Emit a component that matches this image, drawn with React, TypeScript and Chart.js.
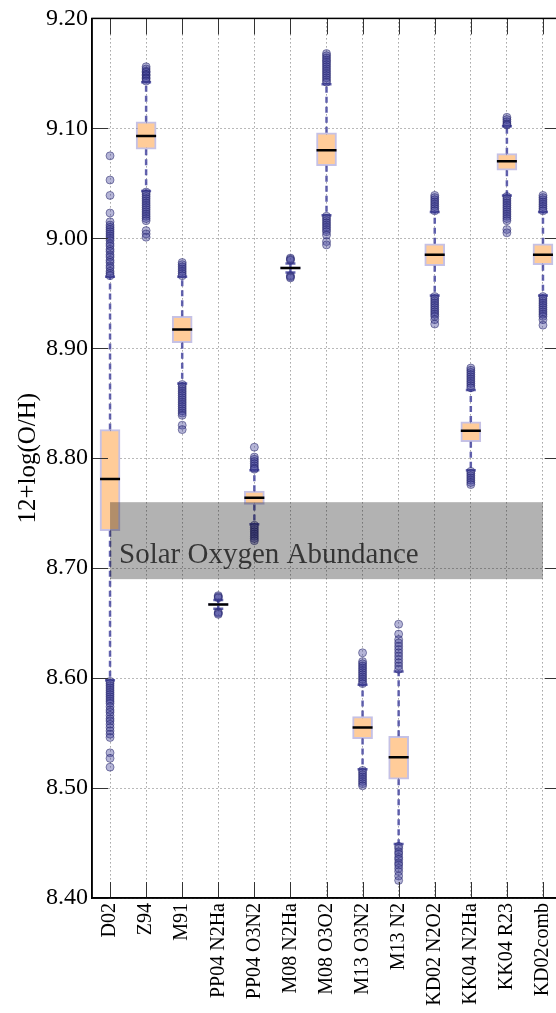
import React, { useEffect, useRef } from 'react';
import { Chart, registerables } from 'chart.js';

Chart.register(...registerables);

// ---------- data ----------
const methods = [
  'D02', 'Z94', 'M91', 'PP04 N2Ha', 'PP04 O3N2', 'M08 N2Ha', 'M08 O3O2',
  'M13 O3N2', 'M13 N2', 'KD02 N2O2', 'KK04 N2Ha', 'KK04 R23', 'KD02comb',
];
const q1 = [8.734, 9.081, 8.905, 8.666, 8.758, 8.972, 9.066, 8.545, 8.508, 8.975, 8.815, 9.062, 8.976];
const medians = [8.781, 9.093, 8.917, 8.667, 8.764, 8.973, 9.080, 8.555, 8.528, 8.985, 8.825, 9.070, 8.985];
const q3 = [8.826, 9.106, 8.929, 8.668, 8.770, 8.974, 9.096, 8.565, 8.547, 8.995, 8.833, 9.077, 8.995];
const whiskerLow = [8.598, 9.043, 8.868, 8.663, 8.740, 8.969, 9.021, 8.517, 8.449, 8.948, 8.789, 9.039, 8.948];
const whiskerHigh = [8.965, 9.142, 8.965, 8.671, 8.789, 8.977, 9.140, 8.594, 8.606, 9.024, 8.862, 9.102, 9.024];

const fliersD02 = [
  9.075, 9.053, 9.039, 9.023, 9.015, 9.012, 9.010, 9.008, 9.006, 9.004, 9.002, 9.000, 8.998,
  8.995, 8.993, 8.990, 8.988, 8.985, 8.983, 8.980, 8.978, 8.975, 8.973, 8.970, 8.968, 8.966,
  8.597, 8.595, 8.593, 8.591, 8.589, 8.587, 8.585, 8.583, 8.581, 8.579, 8.577, 8.574, 8.571,
  8.569, 8.566, 8.563, 8.561, 8.558, 8.555, 8.552, 8.549, 8.546, 8.532, 8.527, 8.519,
];
const fliersZ94 = [
  9.156, 9.154, 9.152, 9.151, 9.149, 9.148, 9.146, 9.145, 9.143,
  9.042, 9.040, 9.038, 9.036, 9.034, 9.032, 9.030, 9.028, 9.026, 9.024, 9.022, 9.020, 9.018,
  9.016, 9.007, 9.004, 9.001,
];
const fliersM91 = [
  8.978, 8.976, 8.974, 8.972, 8.970, 8.968, 8.966,
  8.867, 8.865, 8.863, 8.861, 8.859, 8.857, 8.855, 8.853, 8.851, 8.849, 8.847, 8.845, 8.843,
  8.841, 8.839, 8.830, 8.826,
];
const fliersPP04N2Ha = [8.675, 8.674, 8.673, 8.660, 8.659, 8.658];
const fliersPP04O3N2 = [
  8.810, 8.801, 8.799, 8.797, 8.795, 8.793, 8.791, 8.790,
  8.739, 8.737, 8.735, 8.733, 8.731, 8.729, 8.727, 8.725,
];
const fliersM08N2Ha = [8.982, 8.981, 8.980, 8.966, 8.965, 8.964];
const fliersM08O3O2 = [
  9.168, 9.166, 9.164, 9.162, 9.160, 9.158, 9.156, 9.154, 9.152, 9.150, 9.148, 9.146, 9.144, 9.142,
  9.020, 9.018, 9.016, 9.014, 9.012, 9.010, 9.008, 9.006, 9.003, 8.997, 8.994,
];
const fliersM13O3N2 = [
  8.623, 8.615, 8.613, 8.611, 8.609, 8.607, 8.605, 8.603, 8.601, 8.599, 8.597, 8.595,
  8.516, 8.514, 8.512, 8.510, 8.508, 8.506, 8.504, 8.502,
];
const fliersM13N2 = [
  8.649, 8.640, 8.635, 8.632, 8.629, 8.626, 8.623, 8.620, 8.617, 8.614, 8.611, 8.608,
  8.447, 8.445, 8.442, 8.440, 8.437, 8.435, 8.432, 8.430, 8.427, 8.424, 8.420, 8.416,
];
const fliersKD02N2O2 = [
  9.039, 9.037, 9.035, 9.033, 9.031, 9.029, 9.027, 9.025,
  8.947, 8.945, 8.943, 8.941, 8.939, 8.937, 8.935, 8.933, 8.931, 8.929, 8.926, 8.922,
];
const fliersKK04N2Ha = [
  8.882, 8.880, 8.878, 8.876, 8.874, 8.872, 8.870, 8.868, 8.866, 8.864,
  8.788, 8.786, 8.784, 8.782, 8.780, 8.778, 8.776,
];
const fliersKK04R23 = [
  9.110, 9.108, 9.106, 9.104, 9.103,
  9.038, 9.036, 9.034, 9.032, 9.030, 9.028, 9.026, 9.024, 9.022, 9.020, 9.018, 9.016, 9.008, 9.005,
];
const fliersKD02comb = [
  9.039, 9.037, 9.035, 9.033, 9.031, 9.029, 9.027, 9.025,
  8.947, 8.945, 8.943, 8.941, 8.939, 8.937, 8.935, 8.933, 8.931, 8.929, 8.926, 8.921,
];
const fliers = [
  fliersD02, fliersZ94, fliersM91, fliersPP04N2Ha, fliersPP04O3N2, fliersM08N2Ha, fliersM08O3O2,
  fliersM13O3N2, fliersM13N2, fliersKD02N2O2, fliersKK04N2Ha, fliersKK04R23, fliersKD02comb,
];

const solarLow = 8.69;
const solarHigh = 8.76;
const solarLabel = 'Solar Oxygen Abundance';
const yTitle = '12+log(O/H)';
const yMin = 8.4;
const yMax = 9.2;
const yStep = 0.1;

// ---------- styling ----------
const SERIF = '"Liberation Serif", "Times New Roman", serif';
const CANVAS_W = 580;
const CANVAS_H = 1013;
const WHISKER = 'rgba(70,70,160,0.85)';

const overlayPlugin = {
  id: 'overlay',
  afterDatasetsDraw(chart: any) {
    const { ctx, scales } = chart;
    const x = scales.x;
    const y = scales.y;
    const x0 = x.getPixelForValue(1);
    const x1 = x.getPixelForValue(methods.length);
    const yt = y.getPixelForValue(solarHigh);
    const yb = y.getPixelForValue(solarLow);
    ctx.save();
    ctx.fillStyle = 'rgba(0,0,0,0.3)';
    ctx.fillRect(x0, yt, x1 - x0, yb - yt);
    ctx.fillStyle = 'rgba(0,0,0,0.7)';
    ctx.font = `29px ${SERIF}`;
    ctx.textAlign = 'left';
    ctx.textBaseline = 'alphabetic';
    ctx.fillText(solarLabel, x.getPixelForValue(1.25), y.getPixelForValue(8.7045));
    ctx.restore();
  },
  afterDraw(chart: any) {
    const { ctx, chartArea, scales } = chart;
    const { left, right, top, bottom } = chartArea;
    const x = scales.x;
    const y = scales.y;
    const TL = 16;
    ctx.save();
    ctx.strokeStyle = '#333';
    ctx.lineWidth = 1;
    ctx.beginPath();
    y.ticks.forEach((t: any) => {
      const py = Math.round(y.getPixelForValue(t.value)) + 0.5;
      ctx.moveTo(left, py);
      ctx.lineTo(left + TL, py);
      ctx.moveTo(right, py);
      ctx.lineTo(right - TL, py);
    });
    x.ticks.forEach((t: any) => {
      const px = Math.round(x.getPixelForValue(t.value)) + 0.5;
      ctx.moveTo(px, bottom);
      ctx.lineTo(px, bottom - TL);
      ctx.moveTo(px, top);
      ctx.lineTo(px, top + TL);
    });
    ctx.stroke();
    ctx.strokeStyle = '#000';
    ctx.lineWidth = 1.5;
    ctx.strokeRect(left, top, right - left, bottom - top);
    ctx.restore();
  },
};

export default function App() {
  const ref = useRef<HTMLCanvasElement | null>(null);

  useEffect(() => {
    if (!ref.current) return;
    const positions = methods.map((_, i) => i + 1);

    const boxData = positions.map((p, i) => ({ x: p, y: [q1[i], q3[i]] }));
    const medianData = positions.map((p, i) => ({ x: p, y: medians[i] }));
    const whiskerData: any[] = [];
    positions.forEach((p, i) => {
      whiskerData.push({ x: p, y: q3[i] }, { x: p, y: whiskerHigh[i] }, { x: p, y: null });
      whiskerData.push({ x: p, y: q1[i] }, { x: p, y: whiskerLow[i] }, { x: p, y: null });
    });
    const capData: any[] = [];
    positions.forEach((p, i) => {
      capData.push({ x: p, y: whiskerLow[i] }, { x: p, y: whiskerHigh[i] });
    });
    const flierData: any[] = [];
    positions.forEach((p, i) => {
      fliers[i].forEach((v) => flierData.push({ x: p, y: v }));
    });

    const chart = new Chart(ref.current, {
      type: 'bar',
      data: {
        datasets: [
          {
            type: 'bar',
            label: 'IQR',
            data: boxData as any,
            backgroundColor: '#ffcc99',
            borderColor: 'rgba(110,100,190,0.4)',
            borderWidth: 2,
            borderSkipped: false,
            barThickness: 20,
            order: 5,
          } as any,
          {
            type: 'line',
            label: 'whiskers',
            data: whiskerData,
            borderColor: WHISKER,
            borderWidth: 2.5,
            borderDash: [6, 4],
            pointRadius: 0,
            spanGaps: false,
            fill: false,
            order: 4,
          } as any,
          {
            type: 'line',
            label: 'caps',
            data: capData,
            showLine: false,
            pointStyle: 'line',
            pointRadius: 5,
            pointBorderWidth: 2.5,
            pointBorderColor: WHISKER,
            order: 3,
          } as any,
          {
            type: 'line',
            label: 'fliers',
            data: flierData,
            showLine: false,
            pointStyle: 'circle',
            pointRadius: 4,
            pointBorderWidth: 1,
            pointBackgroundColor: 'rgba(60,60,150,0.38)',
            pointBorderColor: 'rgba(30,30,100,0.5)',
            order: 2,
          } as any,
          {
            type: 'line',
            label: 'median',
            data: medianData,
            showLine: false,
            pointStyle: 'line',
            pointRadius: 10,
            pointBorderWidth: 2.5,
            pointBorderColor: '#000',
            order: 1,
          } as any,
        ],
      },
      options: {
        responsive: false,
        animation: false,
        devicePixelRatio: 1,
        layout: { padding: { top: 18, right: CANVAS_W - 561, left: 0, bottom: 0 } },
        plugins: {
          legend: { display: false },
          tooltip: { enabled: false },
        },
        scales: {
          x: {
            type: 'linear',
            min: 0.5,
            max: methods.length + 0.5,
            offset: false,
            afterBuildTicks: (scale: any) => {
              scale.ticks = methods.map((_, i) => ({ value: i + 1 }));
            },
            afterFit: (scale: any) => {
              scale.height = 115;
            },
            ticks: {
              autoSkip: false,
              minRotation: 90,
              maxRotation: 90,
              padding: 5,
              color: '#000',
              font: { family: SERIF, size: 20 },
              callback: (v: any) => methods[Math.round(Number(v)) - 1] ?? '',
            },
            grid: {
              offset: false,
              drawTicks: false,
              color: 'rgba(0,0,0,0.55)',
              lineWidth: 1,
            },
            border: { display: true, color: '#000', width: 1.5, dash: [1, 3] },
          } as any,
          y: {
            type: 'linear',
            min: yMin,
            max: yMax,
            afterFit: (scale: any) => {
              scale.width = 92;
            },
            ticks: {
              stepSize: yStep,
              padding: 4,
              color: '#000',
              font: { family: SERIF, size: 24 },
              callback: (v: any) => Number(v).toFixed(2),
            },
            grid: {
              drawTicks: false,
              color: 'rgba(0,0,0,0.55)',
              lineWidth: 1,
            },
            border: { display: true, color: '#000', width: 1.5, dash: [1, 3] },
            title: {
              display: true,
              text: yTitle,
              color: '#000',
              font: { family: SERIF, size: 25 },
              padding: { top: 13, bottom: 0 },
            },
          } as any,
        },
      },
      plugins: [overlayPlugin],
    });

    return () => chart.destroy();
  }, []);

  return (
    <div
      style={{
        position: 'fixed',
        left: 0,
        top: 0,
        width: 556,
        height: CANVAS_H,
        overflow: 'hidden',
        background: '#fff',
      }}
    >
      <canvas ref={ref} width={CANVAS_W} height={CANVAS_H} style={{ display: 'block' }} />
    </div>
  );
}
